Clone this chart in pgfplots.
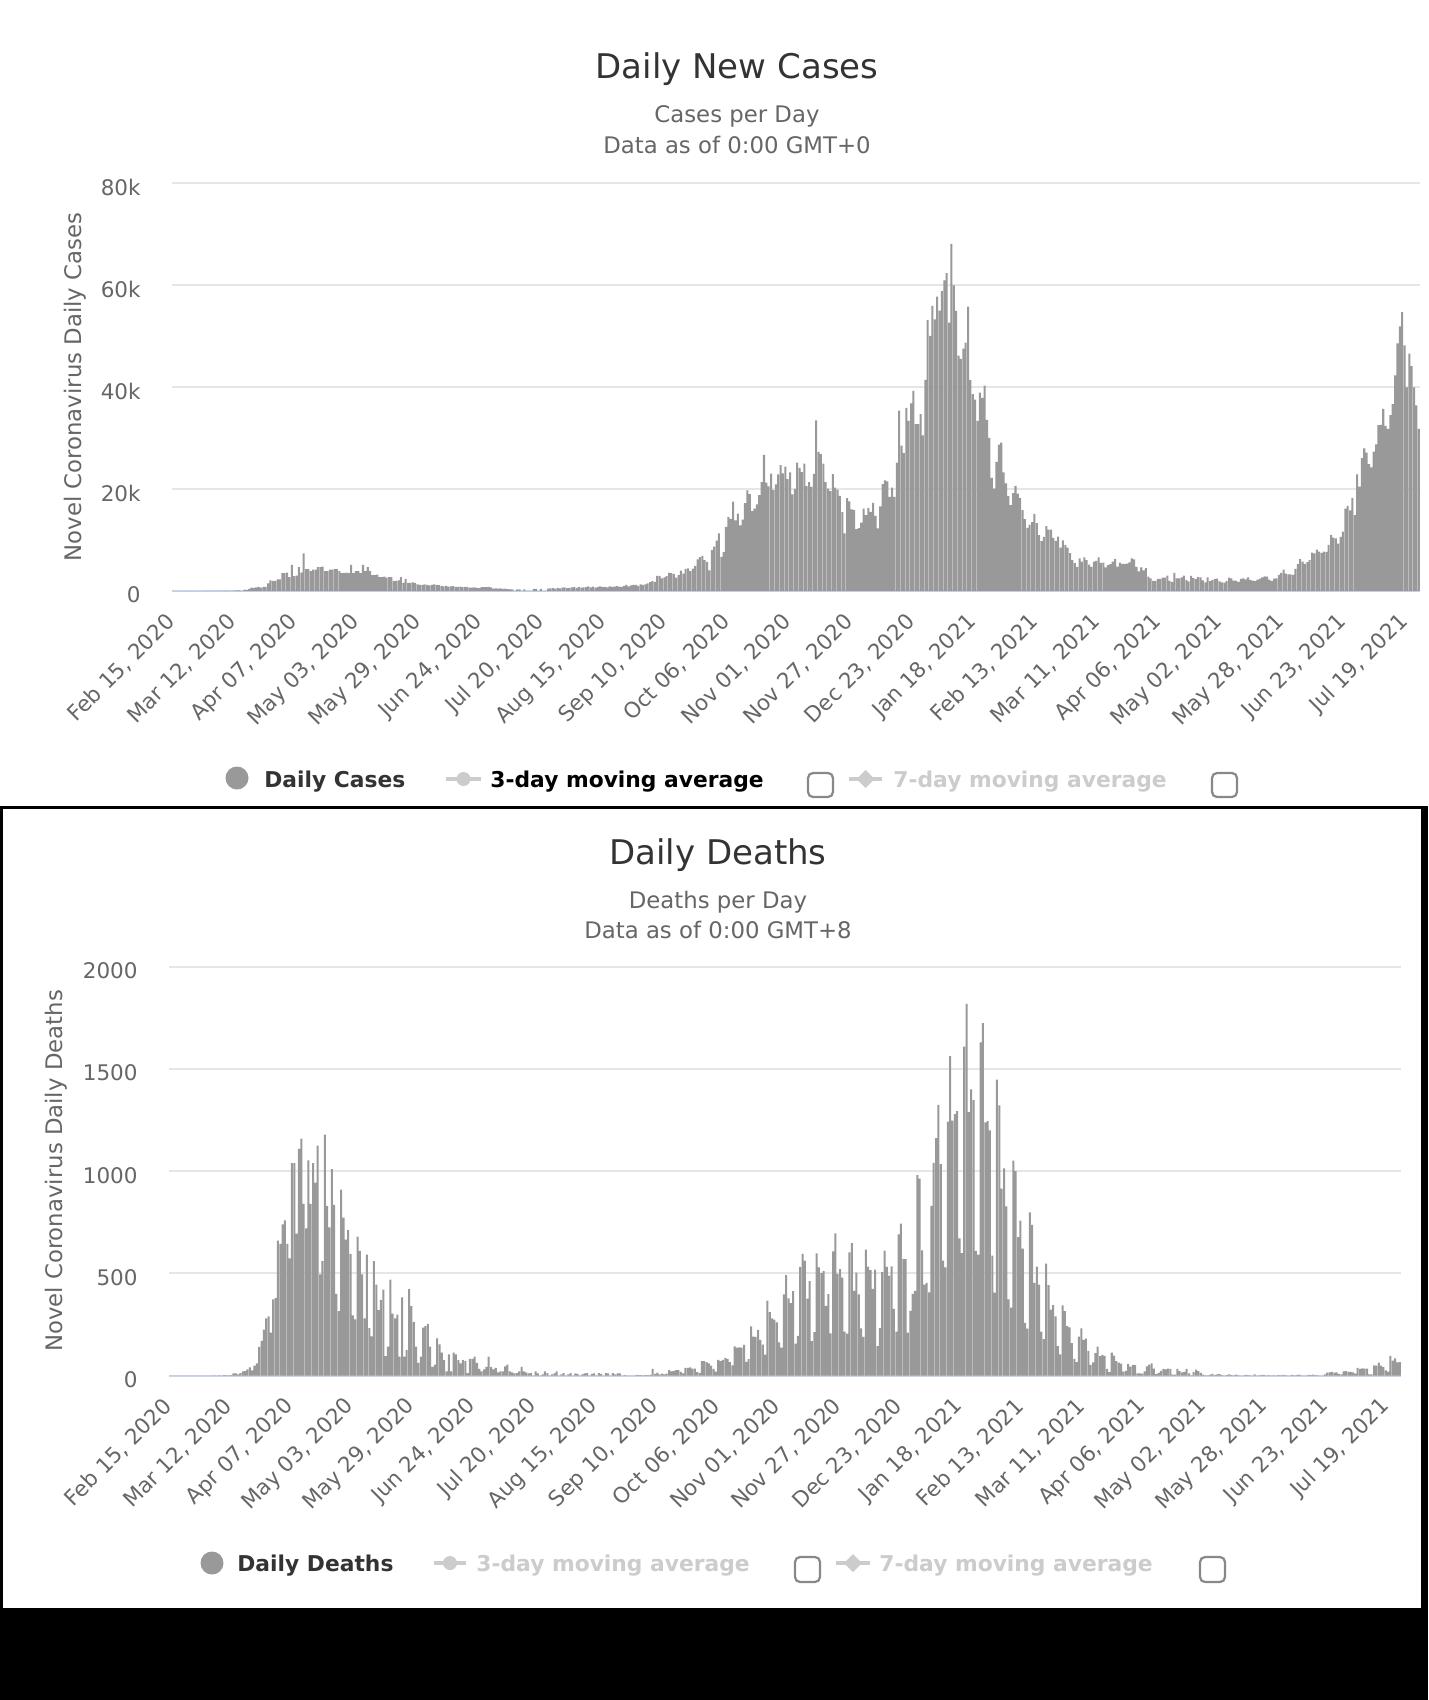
\documentclass[border=0pt]{standalone}
\usepackage{pgfplots}
\pgfplotsset{compat=1.18}
\usepackage{pgfplotstable}
\usepackage{fontspec}
\setmainfont{DejaVu Sans}
\definecolor{barc}{HTML}{999999}
\definecolor{gridc}{HTML}{E6E6E6}
\definecolor{axc}{HTML}{CCD6EB}
\definecolor{txt}{HTML}{333333}
\definecolor{sub}{HTML}{666666}
\definecolor{hid}{HTML}{CCCCCC}
\definecolor{cbox}{HTML}{888888}

\pgfplotstableread[row sep=\\]{
v\\
0\\0\\0\\0\\0\\0\\0\\0\\0\\0\\0\\0\\0\\3\\2\\
13\\4\\11\\34\\29\\48\\43\\67\\48\\46\\50\\83\\134\\117\\0\\251\\
200\\400\\650\\600\\700\\800\\650\\800\\800\\1500\\2100\\2000\\2000\\2300\\2300\\
3500\\3500\\3600\\2700\\5100\\2900\\3000\\4700\\3600\\7400\\4300\\4300\\3900\\4200\\4200\\4700\\4700\\4800\\3900\\3900\\4200\\4200\\4300\\4300\\3900\\3500\\3500\\3600\\3500\\5100\\
3500\\3900\\3900\\3500\\5100\\3900\\4700\\3900\\3100\\3100\\3200\\2700\\2700\\2800\\2600\\2700\\2700\\2000\\2000\\2100\\2700\\1600\\2400\\1600\\1600\\1700\\1600\\1300\\1200\\1200\\1300\\
1200\\1100\\1200\\1300\\1200\\1150\\1000\\900\\1000\\850\\900\\950\\800\\800\\850\\750\\800\\750\\650\\650\\700\\600\\550\\780\\780\\750\\800\\700\\450\\500\\
450\\500\\400\\450\\350\\300\\330\\0\\330\\300\\0\\330\\0\\0\\0\\400\\420\\0\\400\\0\\0\\450\\500\\550\\450\\600\\500\\650\\700\\550\\600\\
700\\750\\600\\800\\650\\700\\750\\900\\700\\850\\650\\800\\900\\750\\800\\700\\900\\800\\850\\950\\850\\800\\1000\\1200\\900\\1100\\1200\\1200\\1000\\1300\\1200\\
1295\\1508\\1735\\1940\\1813\\2988\\2948\\2460\\2659\\2919\\3539\\3497\\3330\\2621\\3105\\3991\\3395\\4322\\4422\\3899\\4368\\4926\\6178\\6634\\6874\\6042\\5693\\4044\\
8000\\8700\\9900\\11300\\6700\\7600\\
12594\\14542\\14162\\17540\\13864\\15166\\12872\\13972\\17234\\19724\\18980\\15650\\16171\\16982\\18804\\21331\\26688\\21242\\20530\\23012\\19790\\20890\\22885\\24701\\23065\\24405\\21915\\
23254\\18950\\20018\\25177\\24141\\23287\\24957\\20572\\21350\\20412\\22950\\33470\\27301\\26860\\24962\\21363\\20051\\19609\\22915\\20252\\19875\\18662\\15450\\11299\\18213\\17555\\16022\\15871\\12155\\12330\\
13430\\16170\\14879\\16298\\15539\\17272\\14718\\12282\\16578\\20964\\21672\\21502\\18447\\20263\\18450\\25161\\35383\\28507\\27052\\35928\\33364\\36804\\39237\\32725\\32725\\34693\\30501\\41385\\53135\\50023\\55892\\
53285\\57725\\54990\\58784\\60916\\62322\\52618\\68053\\59937\\54940\\46165\\45533\\47525\\48682\\55761\\41346\\38598\\37535\\33355\\38905\\37892\\40261\\33552\\30004\\22195\\20089\\25308\\28680\\29079\\23275\\21088\\
18607\\16840\\19202\\20634\\19114\\18262\\15845\\14104\\12364\\13013\\13494\\15144\\13308\\10972\\9765\\10625\\12718\\12057\\12027\\10406\\9834\\10641\\8489\\9938\\9003\\8523\\7434\\6035\\
5455\\4712\\6385\\5766\\6573\\6040\\5177\\4712\\5766\\5926\\6609\\5534\\5560\\4618\\5089\\5294\\5758\\6303\\4802\\5587\\5312\\5342\\5379\\5605\\6397\\6187\\4715\\3862\\4654\\4052\\4479\\
2800\\2500\\2000\\2000\\2400\\2400\\2600\\2600\\3000\\2000\\1730\\3568\\2472\\2491\\2672\\3030\\2206\\1882\\2963\\2524\\2396\\2729\\2678\\2061\\1712\\2685\\1946\\2166\\2381\\2445\\
1907\\1671\\1649\\1946\\2613\\2490\\2047\\2047\\1770\\2357\\2474\\2284\\2657\\2193\\2027\\1926\\2213\\2412\\2696\\2874\\2829\\2235\\1979\\2439\\2493\\3180\\3542\\4182\\3398\\3240\\3240\\
3165\\4330\\5274\\6238\\5765\\5341\\5683\\6048\\7540\\7393\\8125\\7738\\7490\\7742\\7673\\9055\\11007\\10476\\10321\\9284\\10633\\11625\\16135\\16703\\15810\\18270\\14876\\22868\\20479\\26068\\
27989\\27125\\24885\\24248\\27334\\28773\\32548\\32551\\35707\\32367\\31772\\34471\\36660\\42302\\48553\\51870\\54674\\48161\\39950\\46558\\44104\\39906\\36389\\31795\\
}\casesdata

\pgfplotstableread[row sep=\\]{
v\\
0\\0\\0\\0\\0\\0\\0\\0\\0\\0\\0\\0\\0\\0\\0\\0\\0\\0\\0\\
1\\0\\1\\0\\2\\1\\1\\2\\
10\\10\\5\\12\\20\\22\\30\\40\\25\\48\\60\\140\\170\\225\\280\\290\\210\\373\\380\\
660\\645\\740\\760\\645\\573\\1040\\1040\\695\\1110\\1160\\840\\720\\1053\\840\\1040\\945\\1125\\495\\560\\1180\\830\\725\\1010\\835\\400\\315\\910\\773\\665\\712\\595\\295\\275\\680\\610\\495\\
280\\592\\232\\192\\560\\445\\320\\370\\420\\95\\142\\470\\303\\280\\298\\92\\382\\92\\125\\423\\340\\262\\142\\62\\92\\235\\242\\253\\142\\42\\53\\182\\153\\112\\75\\20\\103\\20\\112\\103\\75\\60\\75\\70\\12\\82\\82\\92\\62\\32\\20\\30\\42\\92\\42\\30\\37\\15\\20\\20\\45\\53\\
20\\15\\10\\12\\20\\42\\20\\15\\10\\12\\0\\20\\10\\0\\5\\20\\12\\0\\5\\10\\20\\0\\5\\12\\0\\5\\12\\0\\10\\8\\0\\5\\10\\12\\0\\8\\10\\0\\12\\8\\0\\12\\10\\0\\12\\5\\10\\
10\\0\\2\\0\\0\\0\\0\\3\\2\\2\\1\\2\\2\\3\\32\\8\\14\\6\\9\\5\\9\\27\\20\\21\\27\\27\\18\\11\\37\\37\\40\\34\\34\\17\\13\\71\\71\\
66\\59\\49\\33\\19\\76\\70\\77\\87\\81\\65\\50\\143\\137\\138\\136\\150\\67\\80\\241\\191\\189\\224\\174\\151\\102\\367\\310\\280\\274\\260\\
162\\136\\397\\492\\378\\355\\413\\156\\194\\532\\595\\563\\376\\462\\168\\213\\598\\529\\501\\511\\341\\398\\206\\608\\696\\498\\521\\479\\215\\205\\
603\\648\\414\\504\\397\\231\\189\\616\\533\\516\\424\\519\\144\\232\\506\\612\\532\\489\\534\\326\\215\\691\\744\\570\\570\\210\\316\\400\\414\\981\\964\\
613\\445\\454\\407\\830\\1041\\1162\\1325\\1035\\563\\529\\1243\\1564\\1248\\1280\\1295\\671\\599\\1610\\1820\\1290\\1401\\1348\\610\\592\\1631\\1725\\1239\\1245\\1200\\587\\
406\\1449\\1322\\915\\1014\\828\\373\\333\\1052\\1001\\678\\758\\621\\258\\230\\799\\738\\454\\533\\445\\215\\178\\548\\442\\323\\345\\290\\144\\
104\\343\\315\\242\\236\\158\\82\\65\\190\\231\\175\\181\\121\\52\\64\\110\\141\\95\\101\\96\\33\\17\\112\\98\\70\\63\\58\\19\\23\\56\\43\\
52\\51\\10\\10\\9\\20\\45\\53\\60\\34\\7\\13\\23\\33\\30\\34\\32\\4\\4\\33\\22\\16\\18\\32\\11\\1\\17\\29\\22\\13\\
4\\1\\1\\4\\8\\3\\5\\7\\2\\0\\2\\5\\3\\1\\4\\2\\0\\0\\3\\2\\1\\0\\5\\0\\1\\2\\3\\0\\2\\0\\1\\
0\\2\\1\\3\\2\\0\\0\\3\\1\\2\\4\\1\\0\\0\\3\\2\\4\\2\\1\\0\\0\\6\\14\\16\\18\\14\\16\\8\\5\\20\\
22\\18\\18\\15\\9\\37\\33\\35\\34\\34\\6\\6\\50\\49\\63\\49\\41\\25\\19\\96\\73\\84\\64\\65\\
}\deathsdata

\pgfplotsset{
  cstyle/.style={
    scale only axis,
    anchor=south west,
    xmin=-0.5, xmax=525.5, ymin=0,
    ybar, bar width=0.86,
    axis lines*=left,
    y axis line style={draw=none},
    x axis line style={draw=axc, line width=1pt, -},
    major tick length=0pt,
    tick style={draw=none},
    ymajorgrids,
    grid style={draw=gridc, line width=1pt},
    scaled y ticks=false,
    xtick={0,26,...,520},
    xticklabels={{Feb 15, 2020},{Mar 12, 2020},{Apr 07, 2020},{May 03, 2020},{May 29, 2020},{Jun 24, 2020},{Jul 20, 2020},{Aug 15, 2020},{Sep 10, 2020},{Oct 06, 2020},{Nov 01, 2020},{Nov 27, 2020},{Dec 23, 2020},{Jan 18, 2021},{Feb 13, 2021},{Mar 11, 2021},{Apr 06, 2021},{May 02, 2021},{May 28, 2021},{Jun 23, 2021},{Jul 19, 2021}},
    xticklabel style={xshift=-1pt, yshift=-13.5pt, rotate=45, anchor=east, inner sep=0pt, text=sub, font=\fontsize{10.75}{12}\selectfont},
    yticklabel style={anchor=east, inner sep=0pt, text=sub, font=\fontsize{10.75}{12}\selectfont, xshift=-15.5pt, yshift=-2pt},
  }
}

\begin{document}
\begin{tikzpicture}
\begin{scope}[x=0.5pt,y=-0.5pt]
\fill[black] (0,0) rectangle (1428,1700);
\fill[white] (0,0) rectangle (1428,806);
\fill[white] (3,809) rectangle (1421,1608);
% top texts
\node[anchor=base, inner sep=0, text=txt, font=\fontsize{17}{20}\selectfont] at (737,79) {Daily New Cases};
\node[anchor=base, inner sep=0, text=sub, font=\fontsize{11.4}{14}\selectfont] at (737,123) {Cases per Day};
\node[anchor=base, inner sep=0, text=sub, font=\fontsize{11.4}{14}\selectfont] at (737,154) {Data as of 0:00 GMT+0};
\node[rotate=90, inner sep=0, text=sub, font=\fontsize{11.4}{14}\selectfont] at (75,387) {Novel Coronavirus Daily Cases};
% bottom texts
\node[anchor=base, inner sep=0, text=txt, font=\fontsize{17}{20}\selectfont] at (718,864) {Daily Deaths};
\node[anchor=base, inner sep=0, text=sub, font=\fontsize{11.4}{14}\selectfont] at (718,908) {Deaths per Day};
\node[anchor=base, inner sep=0, text=sub, font=\fontsize{11.4}{14}\selectfont] at (718,938) {Data as of 0:00 GMT+8};
\node[rotate=90, inner sep=0, text=sub, font=\fontsize{11.4}{14}\selectfont] at (56,1171) {Novel Coronavirus Daily Deaths};
% top legend
\fill[barc] (237,778) circle[radius=11.5];
\node[anchor=base west, inner sep=0, text=txt, font=\bfseries\fontsize{10.9}{13}\selectfont] at (264,787) {Daily Cases};
\draw[hid, line width=2pt] (446,779)--(481,779);
\fill[hid] (463.5,779) circle[radius=7];
\node[anchor=base west, inner sep=0, text=black, font=\bfseries\fontsize{10.9}{13}\selectfont] at (490,787) {3-day moving average};
\draw[cbox, line width=1.1pt, rounded corners=2.5pt] (808,773) rectangle (833,797);
\draw[hid, line width=2pt] (849,779)--(882,779);
\fill[hid] (865.5,770)--(874.5,779)--(865.5,788)--(856.5,779)--cycle;
\node[anchor=base west, inner sep=0, text=hid, font=\bfseries\fontsize{10.9}{13}\selectfont] at (893,787) {7-day moving average};
\draw[cbox, line width=1.1pt, rounded corners=2.5pt] (1212,773) rectangle (1237,797);
% bottom legend
\fill[barc] (212,1563) circle[radius=11.5];
\node[anchor=base west, inner sep=0, text=txt, font=\bfseries\fontsize{10.9}{13}\selectfont] at (237,1571) {Daily Deaths};
\draw[hid, line width=2pt] (434,1563)--(466,1563);
\fill[hid] (450,1563) circle[radius=7];
\node[anchor=base west, inner sep=0, text=hid, font=\bfseries\fontsize{10.9}{13}\selectfont] at (476,1571) {3-day moving average};
\draw[cbox, line width=1.1pt, rounded corners=2.5pt] (795,1557) rectangle (820,1582);
\draw[hid, line width=2pt] (836,1563)--(870,1563);
\fill[hid] (853,1554)--(862,1563)--(853,1572)--(844,1563)--cycle;
\node[anchor=base west, inner sep=0, text=hid, font=\bfseries\fontsize{10.9}{13}\selectfont] at (879,1571) {7-day moving average};
\draw[cbox, line width=1.1pt, rounded corners=2.5pt] (1200,1557) rectangle (1225,1582);
\end{scope}

\begin{axis}[cstyle, at={(86pt,-295.5pt)}, width=624pt, height=204pt,
  ymax=80000, ytick={0,20000,40000,60000,80000}, yticklabels={0,20k,40k,60k,80k}]
\addplot[fill=barc, draw=none] table[x expr=\coordindex, y=v] {\casesdata};
\end{axis}

\begin{axis}[cstyle, at={(84.5pt,-687.75pt)}, width=616pt, height=204.25pt,
  ymax=2000, ytick={0,500,1000,1500,2000}, yticklabels={0,500,1000,1500,2000}]
\addplot[fill=barc, draw=none] table[x expr=\coordindex, y=v] {\deathsdata};
\end{axis}
\end{tikzpicture}
\end{document}
